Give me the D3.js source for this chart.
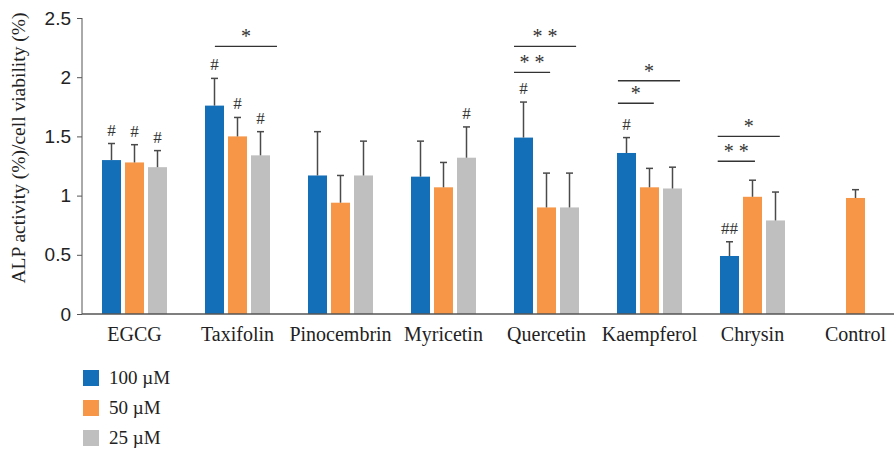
<!DOCTYPE html>
<html>
<head>
<meta charset="utf-8">
<script src="https://cdn.jsdelivr.net/npm/d3@7"></script>
<style>
  body { margin: 0; background: #fff; }
  svg { display: block; font-family: "Liberation Serif", "DejaVu Serif", serif; }
</style>
</head>
<body>
<div id="chart"></div>
<script>
// categories and series
const compounds = ["EGCG", "Taxifolin", "Pinocembrin", "Myricetin", "Quercetin", "Kaempferol", "Chrysin", "Control"];
const doses = ["100 µM", "50 µM", "25 µM"];
const colors = ["#136fb7", "#f79646", "#bfbfbf"];

// mean values per dose (null = no bar)
const val100 = [1.30, 1.76, 1.17, 1.16, 1.49, 1.36, 0.49, null];
const val50  = [1.28, 1.50, 0.94, 1.07, 0.90, 1.07, 0.99, 0.98];
const val25  = [1.24, 1.34, 1.17, 1.32, 0.90, 1.06, 0.79, null];

// top of error bars
const err100 = [1.44, 1.99, 1.54, 1.46, 1.79, 1.49, 0.61, null];
const err50  = [1.43, 1.66, 1.17, 1.28, 1.19, 1.23, 1.13, 1.05];
const err25  = [1.38, 1.54, 1.46, 1.58, 1.19, 1.24, 1.03, null];

// "#" marks above bars
const hash100 = ["#", "#", "", "", "#", "#", "##", ""];
const hash50  = ["#", "#", "", "", "", "", "", ""];
const hash25  = ["#", "#", "", "#", "", "", "", ""];

// significance brackets: group, level (y value), from/to in bar slots, label
const brackets = [
  { group: "Taxifolin", level: 2.26, from: 0.43, to: 3.13, label: "*" },
  { group: "Quercetin", level: 2.26, from: 0, to: 2.7, label: "* *" },
  { group: "Quercetin", level: 2.04, from: 0, to: 1.57, label: "* *" },
  { group: "Kaempferol", level: 1.97, from: 0.04, to: 2.74, label: "*" },
  { group: "Kaempferol", level: 1.78, from: 0.04, to: 1.6, label: "*" },
  { group: "Chrysin", level: 1.50, from: -0.1, to: 2.6, label: "*" },
  { group: "Chrysin", level: 1.29, from: -0.1, to: 1.52, label: "* *" }
];

const yTicks = [0, 0.5, 1, 1.5, 2, 2.5];

const width = 894, height = 449;
const svg = d3.select("#chart").append("svg")
  .attr("width", width)
  .attr("height", height);

const x = d3.scaleBand().domain(compounds).range([83, 907]);
const y = d3.scaleLinear().domain([0, 2.5]).range([314, 18]);
const xs = d3.scaleBand().domain(doses).range([-32.5, 32.5]).paddingInner(0.174);

const values = [val100, val50, val25];
const errs = [err100, err50, err25];
const hashes = [hash100, hash50, hash25];

const rows = [];
compounds.forEach((c, i) => {
  doses.forEach((d, j) => {
    if (values[j][i] != null) {
      rows.push({ c, d, j, v: values[j][i], e: errs[j][i], h: hashes[j][i] });
    }
  });
});

const bx = r => x(r.c) + x.bandwidth() / 2 + xs(r.d);

// bars
svg.append("g").selectAll("rect")
  .data(rows)
  .enter()
  .append("rect")
  .attr("x", bx)
  .attr("y", r => y(r.v))
  .attr("width", xs.bandwidth())
  .attr("height", r => y(0) - y(r.v))
  .attr("fill", r => colors[r.j]);

// error bars
const eg = svg.append("g").attr("stroke", "#4a4a4a").attr("stroke-width", 1.5);
rows.forEach(r => {
  const cx = bx(r) + xs.bandwidth() / 2;
  eg.append("line").attr("x1", cx).attr("x2", cx).attr("y1", y(r.v)).attr("y2", y(r.e));
  eg.append("line").attr("x1", cx - 3.5).attr("x2", cx + 3.5).attr("y1", y(r.e)).attr("y2", y(r.e));
});

// hash marks
svg.append("g").selectAll("text")
  .data(rows.filter(r => r.h))
  .enter()
  .append("text")
  .attr("x", r => bx(r) + xs.bandwidth() / 2)
  .attr("y", r => y(r.e) - 8)
  .attr("text-anchor", "middle")
  .attr("fill", "#333")
  .style("font-size", "17px")
  .text(r => r.h);

// brackets
const step = xs.step();
brackets.forEach(b => {
  const start = x(b.group) + x.bandwidth() / 2 + xs.range()[0];
  const left = start + b.from * step;
  const right = start + b.to * step;
  svg.append("line")
    .attr("x1", left).attr("x2", right)
    .attr("y1", y(b.level)).attr("y2", y(b.level))
    .attr("stroke", "#333").attr("stroke-width", 1.3);
  svg.append("text")
    .attr("x", (left + right) / 2)
    .attr("y", y(b.level) - 3)
    .attr("text-anchor", "middle")
    .attr("fill", "#333")
    .style("font-size", "20px")
    .text(b.label);
});

// y axis
const yAxis = svg.append("g")
  .attr("transform", "translate(82,0)")
  .call(d3.axisLeft(y).tickValues(yTicks).tickSize(5).tickPadding(6).tickFormat(d3.format("")));
yAxis.selectAll("text").style("font-size", "19px").attr("fill", "#222");
yAxis.selectAll("line").attr("stroke", "#555");
yAxis.select(".domain").attr("stroke", "#555").attr("d", "M0,18V314");

// x axis baseline
svg.append("line")
  .attr("x1", 82).attr("x2", width)
  .attr("y1", y(0)).attr("y2", y(0))
  .attr("stroke", "#555").attr("stroke-width", 1.5);

// x labels
svg.append("g").selectAll("text")
  .data(compounds)
  .enter()
  .append("text")
  .attr("x", c => x(c) + x.bandwidth() / 2)
  .attr("y", 341)
  .attr("text-anchor", "middle")
  .attr("fill", "#222")
  .style("font-size", "20px")
  .text(c => c);

// y label
svg.append("text")
  .attr("transform", "translate(25,148) rotate(-90)")
  .attr("text-anchor", "middle")
  .attr("fill", "#222")
  .style("font-size", "19.5px")
  .text("ALP activity (%)/cell viability (%)");

// legend
const lg = svg.append("g").selectAll("g")
  .data(doses)
  .enter()
  .append("g")
  .attr("transform", (d, i) => `translate(83,${370 + i * 30})`);
lg.append("rect").attr("width", 16).attr("height", 16).attr("fill", (d, i) => colors[i]);
lg.append("text").attr("x", 26).attr("y", 14).attr("fill", "#222").style("font-size", "19px").text(d => d);
</script>
</body>
</html>
